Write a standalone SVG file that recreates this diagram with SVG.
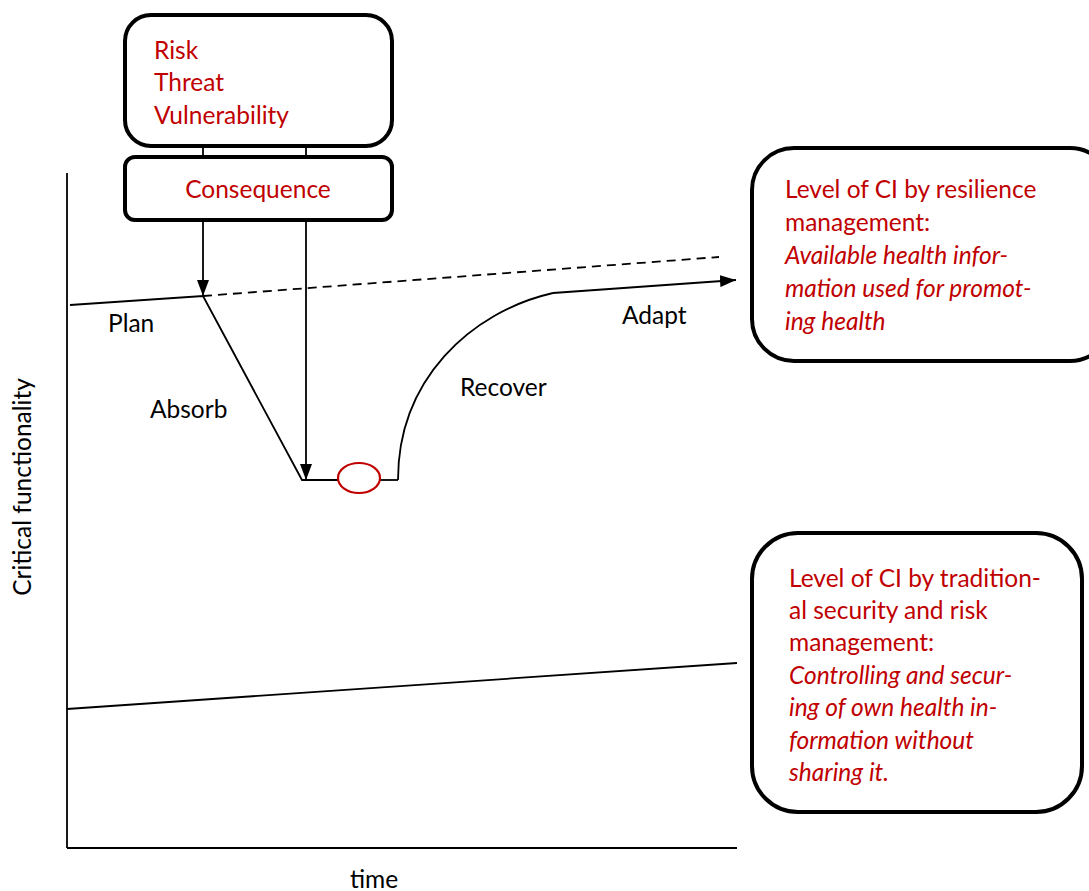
<svg xmlns="http://www.w3.org/2000/svg" width="1089" height="891" viewBox="0 0 1089 891">
  <defs>
    <marker id="arrowBig" viewBox="0 0 10 10" refX="10" refY="5" markerWidth="16" markerHeight="12" markerUnits="userSpaceOnUse" orient="auto" preserveAspectRatio="none">
      <path d="M0,0 L10,5 L0,10 Z" fill="#000"/>
    </marker>
    <style>
      .box { fill: #fff; stroke: #000; stroke-width: 4; }
      .line { fill: none; stroke: #000; stroke-width: 1.8; }
      .dash { fill: none; stroke: #000; stroke-width: 1.8; stroke-dasharray: 9 6; }
      .red { fill: #C00000; font-family: Lato, "Liberation Sans", sans-serif; font-size: 24.5px; }
      .blk { fill: #000; font-family: Lato, "Liberation Sans", sans-serif; font-size: 24.5px; }
      .it { font-style: italic; }
    </style>
  </defs>

  <!-- axes and level lines -->
  <g id="connectors">
    <line class="line" x1="67" y1="173" x2="67" y2="848"/>
    <line class="line" x1="67" y1="848" x2="737" y2="848"/>
    <line class="line" x1="67" y1="709" x2="737" y2="663"/>
    <!-- links between the two top boxes -->
    <line class="line" x1="203" y1="146" x2="203" y2="158"/>
    <line class="line" x1="306" y1="146" x2="306" y2="158"/>
    <!-- impact arrows -->
    <line class="line" x1="203" y1="220" x2="203" y2="296" marker-end="url(#arrowBig)"/>
    <line class="line" x1="306" y1="220" x2="306" y2="480" marker-end="url(#arrowBig)"/>
    <!-- functionality curve -->
    <polyline class="line" points="70,305 203,296 302,480 338,480"/>
    <line class="line" x1="380" y1="480" x2="398" y2="480"/>
    <path class="line" d="M398,480 C398,380 470,312 553,293"/>
    <line class="line" x1="553" y1="293" x2="736" y2="280" marker-end="url(#arrowBig)"/>
    <line class="dash" x1="203" y1="296" x2="719" y2="257"/>
    <ellipse cx="359" cy="478" rx="21" ry="15" fill="none" stroke="#C00000" stroke-width="2.2"/>
  </g>

  <g id="risk">
    <rect class="box" x="125" y="15" width="267" height="131" rx="26"/>
    <text class="red" x="154" y="59">Risk</text>
    <text class="red" x="154" y="91">Threat</text>
    <text class="red" x="154" y="124">Vulnerability</text>
  </g>

  <g id="consequence">
    <rect class="box" x="125" y="157" width="267" height="63" rx="10"/>
    <text class="red" x="258" y="198" text-anchor="middle">Consequence</text>
  </g>

  <g id="labels">
    <text class="blk" x="108" y="332">Plan</text>
    <text class="blk" x="150" y="418">Absorb</text>
    <text class="blk" x="460" y="396">Recover</text>
    <text class="blk" x="622" y="324">Adapt</text>
    <text class="blk" x="374" y="888" text-anchor="middle">time</text>
    <text class="blk" transform="translate(31,487) rotate(-90)" text-anchor="middle">Critical functionality</text>
  </g>

  <g id="resilience">
    <rect class="box" x="752" y="148" width="360" height="213" rx="42"/>
    <text class="red" x="785" y="198">Level of CI by resilience</text>
    <text class="red" x="785" y="231">management:</text>
    <text class="red it" x="785" y="264">Available health infor-</text>
    <text class="red it" x="785" y="297">mation used for promot-</text>
    <text class="red it" x="785" y="330">ing health</text>
  </g>

  <g id="traditional">
    <rect class="box" x="752" y="533" width="330" height="279" rx="46"/>
    <text class="red" x="789" y="587">Level of CI by tradition-</text>
    <text class="red" x="789" y="619">al security and risk</text>
    <text class="red" x="789" y="651">management:</text>
    <text class="red it" x="789" y="684">Controlling and secur-</text>
    <text class="red it" x="789" y="716">ing of own health in-</text>
    <text class="red it" x="789" y="749">formation without</text>
    <text class="red it" x="789" y="781">sharing it.</text>
  </g>
</svg>
